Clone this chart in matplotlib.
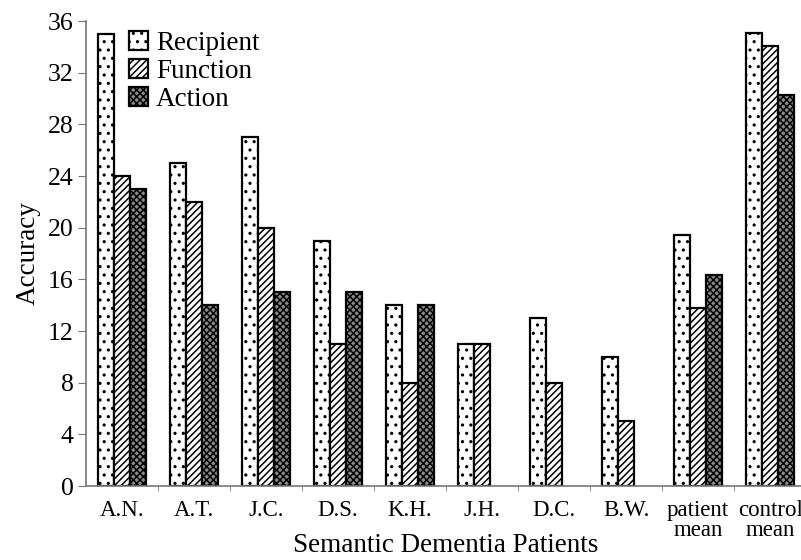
import matplotlib.pyplot as plt
import numpy as np

plt.rcParams['font.family'] = ['Liberation Serif', 'DejaVu Serif']
plt.rcParams['hatch.linewidth'] = 1.1

groups = ['A.N.', 'A.T.', 'J.C.', 'D.S.', 'K.H.', 'J.H.', 'D.C.', 'B.W.',
          'patient\nmean', 'control\nmean']
recipient = [35, 25, 27, 19, 14, 11, 13, 10, 19.4, 35.1]
function = [24, 22, 20, 11, 8, 11, 8, 5, 13.8, 34.1]
action = [23, 14, 15, 15, 14, 0, 0, 0, 16.3, 30.3]
yticks = list(range(0, 37, 4))

fig = plt.figure(figsize=(8.01, 5.6), dpi=100)
ax = fig.add_axes([0.1074, 0.1321, 0.899, 0.8304])

x = np.arange(len(groups))
w = 0.22
styles = [
    ('Recipient', recipient, 'white', '..'),
    ('Function', function, 'white', '/////'),
    ('Action', action, '#8a8a8a', 'xxxxx'),
]
for i, (name, vals, fc, hatch) in enumerate(styles):
    # no outline for empty bars (the reference shows nothing there)
    lw = [1.6 if v > 0 else 0 for v in vals]
    ax.bar(x + (i - 1) * w, vals, w, facecolor=fc, edgecolor='black',
           hatch=hatch, linewidth=lw, label=name)

ax.set_xlim(-0.5, 9.5)
ax.set_ylim(0, 36)
ax.set_yticks(yticks)
ax.set_xticks(x)
ax.set_xticklabels(groups, fontsize=16.5, linespacing=0.97)
ax.set_xticks(np.arange(0.5, 9, 1), minor=True)
ax.tick_params(axis='x', which='major', length=0, pad=10)
ax.tick_params(axis='x', which='minor', length=3.6, color='#777', direction='out')
ax.tick_params(axis='y', length=6, color='#777', labelsize=18.5, pad=3)

for s in ['top', 'right']:
    ax.spines[s].set_visible(False)
for s in ['left', 'bottom']:
    ax.spines[s].set_color('#777')
    ax.spines[s].set_linewidth(1.2)

ax.set_xlabel('Semantic Dementia Patients', fontsize=19.5)
ax.xaxis.label.set_va('baseline')
ax.xaxis.set_label_coords(0.5, -0.142)
ax.set_ylabel('Accuracy', fontsize=19.5, labelpad=5)

leg = ax.legend(loc='upper left', bbox_to_anchor=(0.0597, 0.978), frameon=False,
                fontsize=19.5, handlelength=0.7, handleheight=0.7,
                handletextpad=0.3, labelspacing=0.1, borderaxespad=0,
                borderpad=0)
for h in leg.legend_handles:
    h.set_linewidth(1.6)

fig.savefig('out.png', dpi=100)
